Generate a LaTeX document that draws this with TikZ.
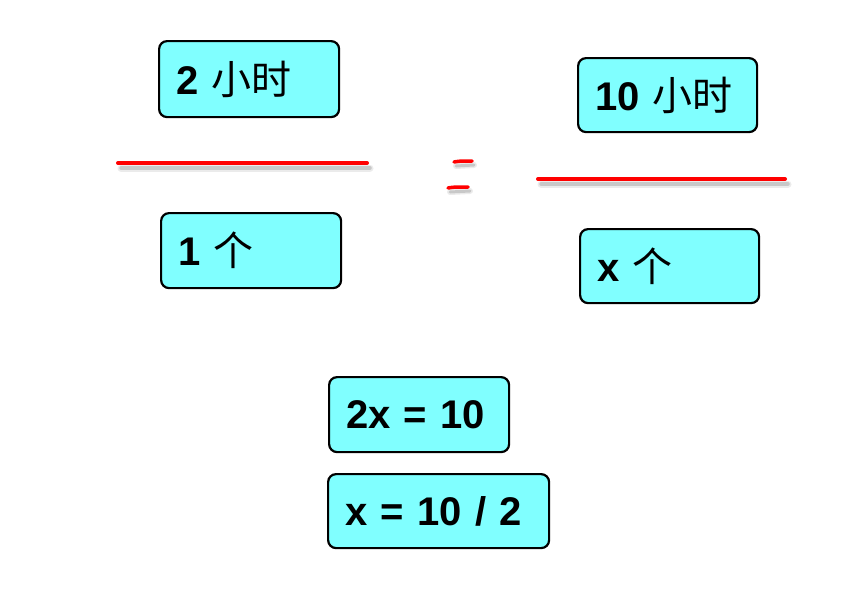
\documentclass[tikz,border=0pt]{standalone}
\usepackage{fontspec}
\setmainfont{Liberation Sans}
\newfontfamily\cjk{Noto Sans CJK SC}
\definecolor{boxcyan}{HTML}{80FFFF}
\definecolor{inkred}{HTML}{FF0000}
\tikzset{
  box/.style={draw=black, line width=2.2pt, rounded corners=8pt, fill=boxcyan,
    anchor=north west, align=left, inner xsep=17pt, inner ysep=0pt,
    font=\fontsize{40}{48}\selectfont\bfseries},
  redline/.style={draw=inkred, line width=4pt, line cap=round},
  shadowline/.style={draw=black, line width=7pt, line cap=round, opacity=0.08},
  shadowcore/.style={draw=black, line width=3.5pt, line cap=round, opacity=0.15},
}
\begin{document}
\begin{tikzpicture}[x=1pt,y=-1pt]
\useasboundingbox (0,0) rectangle (858,589);
% boxes
\node[box, text width=146pt, minimum height=76pt] (hours2) at (158,40) {2 {\cjk\mdseries 小时}};
\node[box, text width=146pt, minimum height=75pt] (one) at (160,212) {1 {\cjk\mdseries 个}};
\node[box, text width=145pt, minimum height=74pt] (hours10) at (577,57) {10 {\cjk\mdseries 小时}};
\node[box, text width=145pt, minimum height=74pt] (xge) at (579,228) {x {\cjk\mdseries 个}};
\node[box, text width=146pt, minimum height=75pt] (eqa) at (328,376) {2x = 10};
\node[box, text width=187pt, minimum height=74pt] (eqb) at (327,473) {x = 10 / 2};
% fraction bars with soft shadows
\coordinate (l1) at (118,163); \coordinate (l2) at (367,163);
\coordinate (r1) at (538,179); \coordinate (r2) at (785,179);
\foreach \a/\b in {l1/l2, r1/r2}{
  \draw[shadowline] ([shift={(3,5)}]\a) -- ([shift={(3,5)}]\b);
  \draw[shadowcore] ([shift={(3,5)}]\a) -- ([shift={(3,5)}]\b);
}
\draw[redline] (l1) -- (l2);
\draw[redline] (r1) -- (r2);
% hand-drawn equals sign
\coordinate (e1) at (454,162); \coordinate (e2) at (472,161);
\coordinate (e3) at (448,188); \coordinate (e4) at (468,187);
\foreach \a/\b in {e1/e2, e3/e4}{
  \draw[shadowline, line width=6pt] ([shift={(2,4)}]\a) -- ([shift={(2,4)}]\b);
  \draw[shadowcore, line width=3pt] ([shift={(2,4)}]\a) -- ([shift={(2,4)}]\b);
}
\draw[redline, line width=3.5pt] (e1) .. controls (460,161) .. (e2);
\draw[redline, line width=3.5pt] (e3) .. controls (454,187) .. (e4);
\end{tikzpicture}
\end{document}
